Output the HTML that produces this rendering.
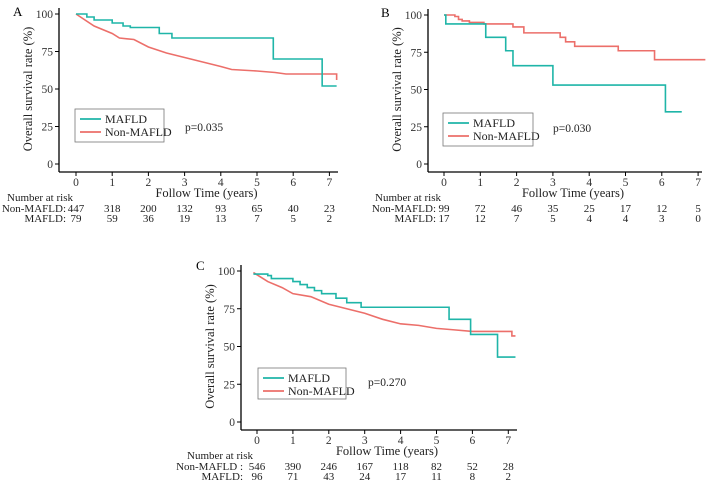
<!DOCTYPE html>
<html><head><meta charset="utf-8"><style>
html,body{margin:0;padding:0;background:#fff;}
svg{display:block;font-family:"Liberation Serif",serif;}
</style></head><body>
<svg id="s" width="709" height="492" viewBox="0 0 709 492" xmlns="http://www.w3.org/2000/svg"></svg>
<script>
const S=document.getElementById('s');
const T='#1fb5a8',R='#ec6f6a';
let h='';
function panel(o){
 const {ax,x0,px,y100,y0,axY,right,label,lx,ly,legX,legY,legW,legH,p,pX,pY,teal,red,tealStep,redStep,risk,riskY,nm,nmX,nmLabelX}=o;
 const X=t=>x0+t*px, Y=v=>y0-(y0-y100)*v/100;
 h+=`<line x1="${ax}" y1="${y100-6}" x2="${ax}" y2="${axY}" stroke="#000" stroke-width="1.3"/>`;
 h+=`<line x1="${ax}" y1="${axY}" x2="${right}" y2="${axY}" stroke="#000" stroke-width="1.3"/>`;
 [0,25,50,75,100].forEach(v=>{h+=`<line x1="${ax-4}" y1="${Y(v)}" x2="${ax}" y2="${Y(v)}" stroke="#000"/>`;
  h+=`<text x="${ax-6}" y="${Y(v)+4}" font-size="11.5" text-anchor="end" fill="#333">${v}</text>`;});
 for(let i=0;i<=7;i++){h+=`<line x1="${X(i)}" y1="${axY}" x2="${X(i)}" y2="${axY+4}" stroke="#000"/>`;
  h+=`<text x="${X(i)}" y="${axY+14}" font-size="11.5" text-anchor="middle" fill="#333">${i}</text>`;}
 h+=`<text x="${(ax+right)/2+8}" y="${axY+25}" font-size="12.5" text-anchor="middle" fill="#222">Follow Time (years)</text>`;
 h+=`<text transform="translate(${ax-27},${(y100+y0)/2}) rotate(-90)" font-size="12.5" text-anchor="middle" fill="#222">Overall survival rate (%)</text>`;
 h+=`<text x="${lx}" y="${ly}" font-size="13" fill="#000">${label}</text>`;
 function path(pts,step,c){let d='';pts.forEach((q,i)=>{const x=X(q[0]),y=Y(q[1]);
  if(i==0)d+=`M${x},${y}`;else if(step){d+=`H${x}V${y}`;}else d+=`L${x},${y}`;});
  h+=`<path d="${d}" fill="none" stroke="${c}" stroke-width="1.6"/>`;}
 path(red,redStep,R);path(teal,tealStep,T);
 h+=`<rect x="${legX}" y="${legY}" width="${legW}" height="${legH}" fill="#fff" stroke="#777" stroke-width="0.8"/>`;
 h+=`<line x1="${legX+5}" y1="${legY+10}" x2="${legX+26}" y2="${legY+10}" stroke="${T}" stroke-width="1.8"/>`;
 h+=`<line x1="${legX+5}" y1="${legY+23}" x2="${legX+26}" y2="${legY+23}" stroke="${R}" stroke-width="1.8"/>`;
 h+=`<text x="${legX+30}" y="${legY+14}" font-size="12" fill="#222">MAFLD</text>`;
 h+=`<text x="${legX+30}" y="${legY+27}" font-size="12" fill="#222">Non-MAFLD</text>`;
 h+=`<text x="${pX}" y="${pY}" font-size="11.5" fill="#222">${p}</text>`;
 h+=`<text x="${nmX}" y="${riskY}" font-size="11" fill="#222">Number at risk</text>`;
 h+=`<text x="${nmLabelX}" y="${riskY+11}" font-size="11" text-anchor="end" fill="#222">${nm[0]}</text>`;
 h+=`<text x="${nmLabelX}" y="${riskY+21}" font-size="11" text-anchor="end" fill="#222">${nm[1]}</text>`;
 risk[0].forEach((v,i)=>h+=`<text x="${X(i)}" y="${riskY+11}" font-size="11" text-anchor="middle" fill="#222">${v}</text>`);
 risk[1].forEach((v,i)=>h+=`<text x="${X(i)}" y="${riskY+21}" font-size="11" text-anchor="middle" fill="#222">${v}</text>`);
}
panel({ax:59,x0:76,px:36.2,y100:14,y0:164,axY:172,right:338,label:'A',lx:13,ly:16,
 legX:75,legY:109,legW:89,legH:33,p:'p=0.035',pX:185,pY:131,
 teal:[[0,100],[0.3,98],[0.5,96],[1.0,94],[1.3,92],[1.5,91],[2.3,87],[2.65,84],[5.45,70],[6.8,52],[7.2,52]],tealStep:true,
 red:[[0,100],[0.5,92],[1,87],[1.2,84],[1.6,83],[2,78],[2.5,74],[3,71],[3.5,68],[4,65],[4.3,63],[5,62],[5.5,61],[5.8,60],[7.2,60],[7.2,56]],redStep:false,
 risk:[[447,318,200,132,93,65,40,23],[79,59,36,19,13,7,5,2]],riskY:201,nm:['Non-MAFLD:','MAFLD:'],nmX:7,nmLabelX:66});
panel({ax:428,x0:444,px:36.3,y100:15,y0:164,axY:172,right:702,label:'B',lx:381,ly:17,
 legX:443,legY:113,legW:90,legH:33,p:'p=0.030',pX:553,pY:132,
 teal:[[0,100],[0.05,94],[1.15,85],[1.7,76],[1.9,66],[3.0,53],[6.1,35],[6.55,35]],tealStep:true,
 red:[[0,100],[0.3,99],[0.4,97],[0.5,96],[0.7,95],[1.1,94],[1.9,92],[2.2,88],[3.2,85],[3.35,82],[3.6,79],[4.8,76],[5.8,70],[7.2,70]],redStep:true,
 risk:[[99,72,46,35,25,17,12,5],[17,12,7,5,4,4,3,0]],riskY:201,nm:['Non-MAFLD:','MAFLD:'],nmX:375,nmLabelX:436});
panel({ax:241,x0:257,px:35.9,y100:271,y0:422,axY:430,right:517,label:'C',lx:196,ly:270,
 legX:258,legY:368,legW:88,legH:31,p:'p=0.270',pX:368,pY:386,
 teal:[[-0.1,98],[0.3,97],[0.4,95],[1.0,93],[1.2,91],[1.4,89],[1.6,87],[1.8,85],[2.2,82],[2.5,79],[2.9,76],[5.35,68],[5.95,58],[6.7,43],[7.2,43]],tealStep:true,
 red:[[-0.1,99],[0.3,93],[0.7,89],[1,85],[1.5,83],[2,78],[2.5,75],[3,72],[3.5,68],[4,65],[4.5,64],[5,62],[5.5,61],[6,60],[7.1,60],[7.1,57],[7.2,57]],redStep:false,
 risk:[[546,390,246,167,118,82,52,28],[96,71,43,24,17,11,8,2]],riskY:459,nm:['Non-MAFLD :','MAFLD:'],nmX:187,nmLabelX:243});
S.innerHTML=h;
</script>
</body></html>
